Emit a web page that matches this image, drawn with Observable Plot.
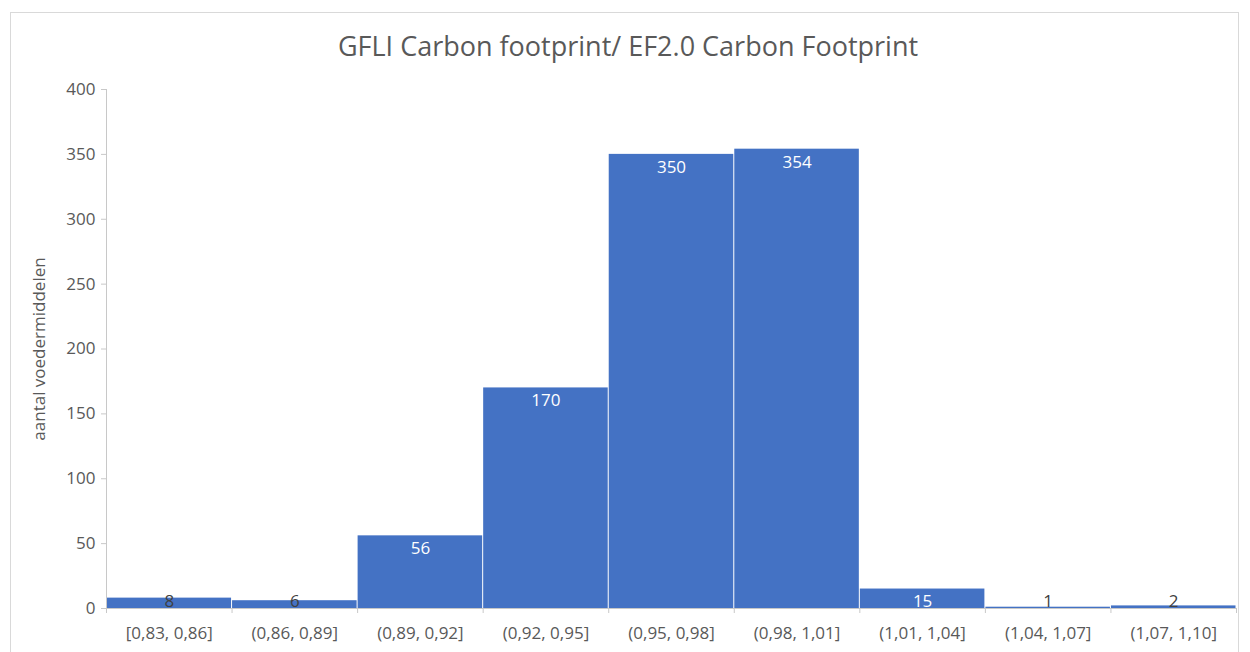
<!DOCTYPE html>
<html>
<head>
<meta charset="utf-8">
<script src="https://cdn.jsdelivr.net/npm/d3@7"></script>
<script src="https://cdn.jsdelivr.net/npm/@observablehq/plot@0.6"></script>
<style>
  body { margin: 0; background: #fff; font-family: "Open Sans", sans-serif; }
  #wrap { position: relative; width: 1250px; height: 652px; overflow: hidden; }
  #frame { position: absolute; left: 10px; top: 12px; width: 1229px; height: 700px; border: 1px solid #d9d9d9; box-sizing: border-box; }
  #title { position: absolute; left: 0; width: 1256px; top: 29px; text-align: center; font-size: 27px; color: #595959; line-height: 34px; }
  #chart { position: absolute; left: 0; top: 70px; }
</style>
</head>
<body>
<div id="wrap">
  <div id="frame"></div>
  <div id="title">GFLI Carbon footprint/ EF2.0 Carbon Footprint</div>
  <div id="chart"></div>
</div>
<script>
const bins = ["[0,83, 0,86]", "(0,86, 0,89]", "(0,89, 0,92]", "(0,92, 0,95]", "(0,95, 0,98]", "(0,98, 1,01]", "(1,01, 1,04]", "(1,04, 1,07]", "(1,07, 1,10]"];
const counts = [8, 6, 56, 170, 350, 354, 15, 1, 2];
const yTicks = [0, 50, 100, 150, 200, 250, 300, 350, 400];
const yLabel = "aantal voedermiddelen";

const data = bins.map((b, i) => ({bin: b, i, count: counts[i]}));
const centers = bins.map((b, i) => i + 0.5);
const edges = d3.range(bins.length + 1);

const plot = Plot.plot({
  width: 1250,
  height: 582,
  marginTop: 19,
  marginBottom: 44,
  marginLeft: 106,
  marginRight: 14,
  style: {fontFamily: "'Open Sans', sans-serif", fontSize: "19px", color: "#595959", background: "transparent"},
  x: {domain: [0, bins.length]},
  y: {domain: [0, 400]},
  marks: [
    Plot.rectY(data, {x1: "i", x2: d => d.i + 1, y: "count", fill: "#4472C4", insetLeft: 0.5, insetRight: 0.5}),
    Plot.ruleY([0], {stroke: "#c8c8c8"}),
    Plot.ruleX([0], {y1: 0, y2: 400, stroke: "#c8c8c8"}),
    Plot.axisY({ticks: yTicks, tickSize: 5, tickPadding: 6, label: yLabel, labelAnchor: "center", labelArrow: "none", labelOffset: 74, stroke: "#c8c8c8", fill: "#595959", fontSize: 17}),
    Plot.axisX({ticks: edges, tickSize: 5, tickFormat: () => "", label: null, stroke: "#c8c8c8"}),
    Plot.axisX({ticks: centers, tickSize: 0, tickPadding: 18, tickFormat: v => bins[Math.round(v - 0.5)], label: null, fill: "#595959", fontSize: 17}),
    Plot.text(data, {x: d => d.i + 0.5, y: d => Math.max(d.count, 15), dy: 13, text: d => String(d.count), fill: d => d.count >= 15 ? "#ffffff" : "#404040", fontSize: 17})
  ]
});
document.getElementById("chart").appendChild(plot);
</script>
</body>
</html>
